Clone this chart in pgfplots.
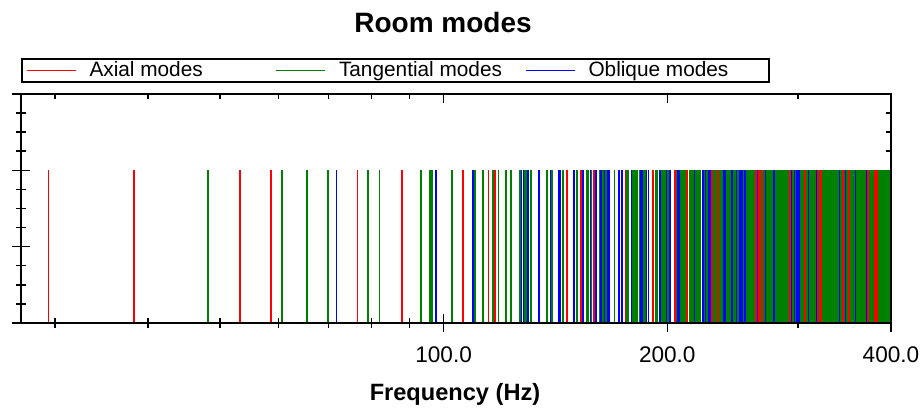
\documentclass[border=0pt]{standalone}
\usepackage{pgfplots}
\pgfplotsset{compat=1.18}
\usepackage{fontspec}
\setmainfont{Liberation Sans}
\definecolor{mred}{RGB}{255,0,0}
\definecolor{mgreen}{RGB}{0,128,0}
\definecolor{mblue}{RGB}{0,0,255}
\pgfplotsset{
  mode/.style={ycomb, no marks, line width=0.9pt, forget plot},
}
\begin{document}
\begin{tikzpicture}
\begin{axis}[scale only axis, width=435pt, height=114.5pt,
  at={(0pt,0pt)}, anchor=south west,
  xmode=log, xmin=27, xmax=400, ymin=0, ymax=3,
  xtick={100,200,400}, minor xtick={30,40,50,60,70,80,90,300},
  ytick={0,1,2,3}, minor ytick={0.25,0.5,0.75,1.25,1.5,1.75,2.25,2.5,2.75},
  axis line style={line width=0.75pt, black},
  tick style={line width=0.75pt, black},
  major tick length=4.5pt, minor tick length=2.5pt,
  yticklabels={},
  tick align=inside,
  xticklabels={100.0,200.0,400.0},
  xticklabel style={anchor=base, yshift=-20pt, font=\fontsize{11.3}{13}\selectfont, text=black},
  legend columns=3,
  legend cell align=left,
  legend image code/.code={\draw[#1] (0pt,0pt) -- (24.5pt,0pt);},
  legend style={at={(0,1.1572)}, anchor=north west, draw=black, line width=1pt,
    inner xsep=2pt, inner ysep=0.75pt,
    font=\fontsize{10.4}{12}\selectfont,
    nodes={inner xsep=0pt, inner ysep=0.5pt},
    /tikz/every odd column/.append style={column sep=6.5pt},
    /tikz/every even column/.append style={column sep=5pt}},
]
\addlegendimage{draw=mred, line width=0.75pt}
\addlegendentry{\makebox[88pt][l]{Axial modes}}
\addlegendimage{draw=mgreen, line width=0.75pt}
\addlegendentry{\makebox[88pt][l]{Tangential modes}}
\addlegendimage{draw=mblue, line width=0.75pt}
\addlegendentry{\makebox[88pt][l]{Oblique modes}}

% Oblique modes
\addplot[mode, draw=mblue] coordinates {
(71.76,2) (87.87,2) (109.58,2) (134.20,2) (160.39,2) (187.50,2) (215.18,2) (243.23,2) (271.54,2) (300.04,2) (328.68,2) (357.42,2) (386.24,2)
(97.72,2) (110.10,2) (128.10,2) (149.70,2) (173.57,2) (198.89,2) (225.17,2) (252.11,2) (279.53,2) (307.29,2) (335.30,2) (363.52,2) (391.89,2)
(129.94,2) (139.49,2) (154.09,2) (172.46,2) (193.55,2) (216.54,2) (240.91,2) (266.26,2) (292.35,2) (319.00,2) (346.07,2) (373.47,2)
(164.78,2) (172.41,2) (184.42,2) (200.03,2) (218.47,2) (239.08,2) (261.35,2) (284.89,2) (309.42,2) (334.70,2) (360.60,2) (386.97,2)
(200.88,2) (207.19,2) (217.29,2) (230.68,2) (246.84,2) (265.26,2) (285.49,2) (307.19,2) (330.06,2) (353.88,2) (378.46,2)
(237.68,2) (243.03,2) (251.69,2) (263.34,2) (277.61,2) (294.10,2) (312.48,2) (332.42,2) (353.66,2) (375.99,2) (399.21,2)
(274.88,2) (279.52,2) (287.09,2) (297.35,2) (310.06,2) (324.91,2) (341.63,2) (359.96,2) (379.67,2)
(312.35,2) (316.44,2) (323.14,2) (332.30,2) (343.71,2) (357.17,2) (372.44,2) (389.33,2)
(350.00,2) (353.65,2) (359.67,2) (367.91,2) (378.25,2) (390.52,2)
(387.78,2) (391.08,2) (396.52,2)
(116.72,2) (127.26,2) (143.12,2) (162.74,2) (184.93,2) (208.88,2) (234.04,2) (260.07,2) (286.72,2) (313.85,2) (341.32,2) (369.08,2) (397.06,2)
(134.26,2) (143.52,2) (157.74,2) (175.74,2) (196.47,2) (219.16,2) (243.26,2) (268.39,2) (294.30,2) (320.78,2) (347.71,2) (375.00,2)
(159.25,2) (167.13,2) (179.49,2) (195.50,2) (214.32,2) (235.30,2) (257.90,2) (281.73,2) (306.50,2) (332.02,2) (358.10,2) (384.65,2)
(188.75,2) (195.45,2) (206.12,2) (220.20,2) (237.07,2) (256.19,2) (277.09,2) (299.40,2) (322.82,2) (347.13,2) (372.16,2) (397.77,2)
(220.97,2) (226.72,2) (235.98,2) (248.37,2) (263.45,2) (280.78,2) (299.97,2) (320.69,2) (342.65,2) (365.66,2) (389.50,2)
(254.88,2) (259.88,2) (268.00,2) (278.97,2) (292.47,2) (308.17,2) (325.75,2) (344.93,2) (365.45,2) (387.09,2)
(289.89,2) (294.29,2) (301.49,2) (311.28,2) (323.43,2) (337.70,2) (353.82,2) (371.55,2) (390.67,2)
(325.64,2) (329.56,2) (336.00,2) (344.82,2) (355.83,2) (368.84,2) (383.65,2)
(361.90,2) (365.44,2) (371.26,2) (379.26,2) (389.29,2)
(398.55,2)
(166.58,2) (174.13,2) (186.03,2) (201.52,2) (219.83,2) (240.32,2) (262.49,2) (285.94,2) (310.38,2) (335.59,2) (361.42,2) (387.74,2)
(179.30,2) (186.34,2) (197.50,2) (212.15,2) (229.62,2) (249.31,2) (270.74,2) (293.53,2) (317.39,2) (342.09,2) (367.46,2) (393.38,2)
(198.70,2) (205.07,2) (215.27,2) (228.79,2) (245.07,2) (263.61,2) (283.96,2) (305.77,2) (328.74,2) (352.64,2) (377.31,2)
(223.05,2) (228.74,2) (237.93,2) (250.22,2) (265.19,2) (282.41,2) (301.50,2) (322.12,2) (344.00,2) (366.92,2) (390.68,2)
(250.91,2) (255.98,2) (264.22,2) (275.34,2) (289.01,2) (304.89,2) (322.65,2) (342.00,2) (362.68,2) (384.48,2)
(281.23,2) (285.77,2) (293.17,2) (303.23,2) (315.70,2) (330.30,2) (346.76,2) (364.83,2) (384.29,2)
(313.30,2) (317.38,2) (324.06,2) (333.20,2) (344.58,2) (358.00,2) (373.24,2) (390.09,2)
(346.65,2) (350.33,2) (356.40,2) (364.72,2) (375.15,2) (387.52,2)
(380.92,2) (384.28,2) (389.82,2) (397.44,2)
(218.00,2) (223.82,2) (233.20,2) (245.73,2) (260.96,2) (278.44,2) (297.78,2) (318.64,2) (340.75,2) (363.86,2) (387.82,2)
(227.87,2) (233.44,2) (242.45,2) (254.53,2) (269.26,2) (286.23,2) (305.08,2) (325.48,2) (347.14,2) (369.86,2) (393.45,2)
(243.43,2) (248.66,2) (257.13,2) (268.55,2) (282.55,2) (298.77,2) (316.87,2) (336.56,2) (357.55,2) (379.65,2)
(263.68,2) (268.51,2) (276.38,2) (287.03,2) (300.17,2) (315.49,2) (332.68,2) (351.48,2) (371.63,2) (392.94,2)
(287.63,2) (292.06,2) (299.31,2) (309.17,2) (321.41,2) (335.76,2) (351.97,2) (369.78,2) (388.99,2)
(314.43,2) (318.49,2) (325.15,2) (334.25,2) (345.60,2) (358.99,2) (374.19,2) (390.99,2)
(343.41,2) (347.14,2) (353.26,2) (361.65,2) (372.17,2) (384.63,2) (398.85,2)
(374.08,2) (377.50,2) (383.14,2) (390.89,2)
(270.09,2) (274.81,2) (282.50,2) (292.93,2) (305.81,2) (320.86,2) (337.78,2) (356.31,2) (376.21,2) (397.27,2)
(278.11,2) (282.70,2) (290.18,2) (300.35,2) (312.93,2) (327.65,2) (344.24,2) (362.44,2) (382.01,2)
(291.00,2) (295.39,2) (302.56,2) (312.32,2) (324.44,2) (338.66,2) (354.73,2) (372.42,2) (391.49,2)
(308.14,2) (312.29,2) (319.08,2) (328.34,2) (339.89,2) (353.49,2) (368.92,2) (385.95,2)
(328.87,2) (332.75,2) (339.13,2) (347.87,2) (358.79,2) (371.70,2) (386.40,2)
(352.55,2) (356.17,2) (362.14,2) (370.34,2) (380.61,2) (392.80,2)
(378.63,2) (382.01,2) (387.58,2) (395.24,2)
(322.52,2) (326.49,2) (332.99,2) (341.88,2) (352.98,2) (366.10,2) (381.01,2) (397.53,2)
(329.27,2) (333.16,2) (339.53,2) (348.26,2) (359.16,2) (372.06,2) (386.75,2)
(340.23,2) (343.99,2) (350.16,2) (358.63,2) (369.23,2) (381.79,2) (396.11,2)
(355.00,2) (358.60,2) (364.53,2) (372.67,2) (382.88,2) (395.01,2)
(373.13,2) (376.56,2) (382.21,2) (389.98,2) (399.75,2)
(394.16,2) (397.41,2)
(375.16,2) (378.57,2) (384.19,2) (391.92,2) (380.98,2) (384.34,2) (389.88,2) (397.50,2) (390.49,2) (393.77,2) (399.17,2)
};

% Tangential modes
\addplot[mode, draw=mgreen] coordinates {
(48.21,2) (69.97,2) (95.83,2) (123.22,2) (151.33,2) (179.81,2) (208.51,2) (237.35,2) (266.29,2) (295.29,2) (324.35,2) (353.44,2) (382.56,2)
(82.01,2) (96.42,2) (116.55,2) (139.95,2) (165.23,2) (191.65,2) (218.81,2) (246.45,2) (274.43,2) (302.65,2) (331.06,2) (359.61,2) (388.27,2)
(118.57,2) (128.96,2) (144.63,2) (164.07,2) (186.10,2) (209.92,2) (234.97,2) (260.90,2) (287.48,2) (314.54,2) (341.96,2) (369.67,2) (397.60,2)
(155.97,2) (164.01,2) (176.60,2) (192.84,2) (211.90,2) (233.10,2) (255.89,2) (279.89,2) (304.82,2) (330.46,2) (356.66,2) (383.31,2)
(193.73,2) (200.25,2) (210.69,2) (224.48,2) (241.05,2) (259.88,2) (280.50,2) (302.56,2) (325.75,2) (349.86,2) (374.71,2)
(231.66,2) (237.14,2) (246.02,2) (257.92,2) (272.47,2) (289.26,2) (307.92,2) (328.14,2) (349.64,2) (372.21,2) (395.66,2)
(269.69,2) (274.42,2) (282.12,2) (292.57,2) (305.47,2) (320.53,2) (337.47,2) (356.02,2) (375.93,2) (397.00,2)
(307.80,2) (311.95,2) (318.74,2) (328.02,2) (339.58,2) (353.19,2) (368.63,2) (385.68,2)
(345.94,2) (349.64,2) (355.72,2) (364.05,2) (374.50,2) (386.89,2)
(384.12,2) (387.45,2) (392.94,2)
(60.68,2) (79.08,2) (102.67,2) (128.62,2) (155.75,2) (183.54,2) (211.74,2) (240.19,2) (268.83,2) (297.58,2) (326.44,2) (355.36,2) (384.33,2)
(110.26,2) (121.36,2) (137.90,2) (158.17,2) (180.92,2) (205.34,2) (230.89,2) (257.23,2) (284.15,2) (311.50,2) (339.17,2) (367.09,2) (395.20,2)
(162.12,2) (169.86,2) (182.04,2) (197.84,2) (216.47,2) (237.25,2) (259.68,2) (283.36,2) (308.01,2) (333.40,2) (359.39,2) (385.85,2)
(214.61,2) (220.52,2) (230.03,2) (242.73,2) (258.13,2) (275.79,2) (295.31,2) (316.33,2) (338.59,2) (361.84,2) (385.92,2)
(267.36,2) (272.13,2) (279.89,2) (290.41,2) (303.41,2) (318.57,2) (335.61,2) (354.25,2) (374.25,2) (395.42,2)
(320.24,2) (324.23,2) (330.78,2) (339.73,2) (350.90,2) (364.09,2) (379.09,2) (395.68,2)
(373.20,2) (376.63,2) (382.28,2) (390.05,2) (399.82,2)
(65.51,2) (93.23,2) (126.60,2) (162.16,2) (198.74,2) (235.87,2) (273.32,2) (310.98,2) (348.77,2) (386.67,2)
(112.99,2) (131.02,2) (156.53,2) (186.47,2) (219.03,2) (253.19,2) (288.41,2) (324.32,2) (360.72,2) (397.48,2)
(163.98,2) (176.90,2) (196.54,2) (221.12,2) (249.19,2) (279.70,2) (311.93,2) (345.41,2) (379.79,2)
(216.02,2) (225.98,2) (241.66,2) (262.05,2) (286.13,2) (313.06,2) (342.16,2) (372.93,2)
(268.50,2) (276.57,2) (289.53,2) (306.75,2) (327.56,2) (351.33,2) (377.49,2)
(321.19,2) (327.97,2) (338.97,2) (353.79,2) (371.98,2) (393.07,2)
(374.02,2) (379.85,2) (389.39,2)
};

% Axial modes
\addplot[mode, draw=mred] coordinates {
(29.40,2) (58.56,2) (87.84,2) (117.12,2) (146.40,2) (175.68,2) (204.96,2) (234.24,2) (263.52,2) (292.80,2) (322.08,2) (351.36,2) (380.64,2)
(38.30,2) (76.60,2) (114.90,2) (153.20,2) (191.50,2) (229.80,2) (268.10,2) (306.40,2) (344.70,2) (383.00,2)
(53.15,2) (106.30,2) (159.45,2) (212.60,2) (265.75,2) (318.90,2) (372.05,2)
};
\end{axis}
\begin{axis}[scale only axis, width=435pt, height=114.5pt,
  at={(0pt,0pt)}, anchor=south west,
  xmode=log, xmin=27, xmax=400, ymin=0, ymax=3,
  xtick={100,200,400}, minor xtick={30,40,50,60,70,80,90,300},
  ytick={0,1,2,3}, minor ytick={0.25,0.5,0.75,1.25,1.5,1.75,2.25,2.5,2.75},
  axis line style={line width=0.75pt, black},
  tick style={line width=0.75pt, black},
  major tick length=4.5pt, minor tick length=2.5pt,
  tick align=outside, xtick pos=left, ytick pos=left,
  xticklabels={}, yticklabels={}]
\addplot[draw=none, forget plot] coordinates {(100,0)};
\end{axis}
\node[anchor=base, font=\fontsize{14}{16}\selectfont\bfseries] at (211pt,145pt) {Room modes};
\node[anchor=base, font=\fontsize{11.8}{14}\selectfont\bfseries] at (217pt,-39pt) {Frequency (Hz)};
\pgfresetboundingbox
\path (-10.5pt,-44pt) rectangle (451pt,161.5pt);
\end{tikzpicture}
\end{document}
